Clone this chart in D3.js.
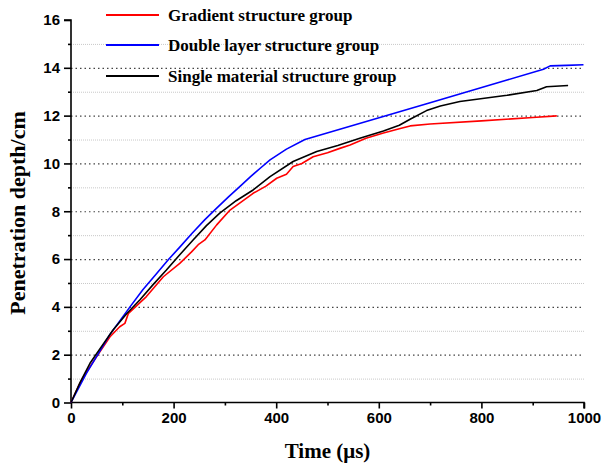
<!DOCTYPE html>
<html>
<head>
<meta charset="utf-8">
<script src="https://cdn.jsdelivr.net/npm/d3@7/dist/d3.min.js"></script>
<style>
	body { margin: 0; background: #fff; }
	svg { display: block; }
</style>
</head>
<body>
<svg id="svg" width="608" height="464"></svg>
<script>
// data: [time (us), depth (cm)]
const gradientData = [
	[0, 0], [15, 0.7], [31, 1.3], [50, 1.92], [76, 2.75], [95, 3.17], [105, 3.31], [112, 3.73],
	[147, 4.43], [180, 5.26], [212, 5.82], [235, 6.3], [248, 6.6], [261, 6.8], [284, 7.43],
	[310, 8.05], [355, 8.75], [380, 9.05], [401, 9.38], [420, 9.55], [433, 9.87], [450, 10.0],
	[472, 10.28], [500, 10.45], [524, 10.63], [544, 10.77], [575, 11.05], [609, 11.27],
	[640, 11.45], [661, 11.57], [700, 11.65], [800, 11.78], [900, 11.92], [947, 11.99],
];
const doubleData = [
	[0, 0], [30, 1.22], [76, 2.85], [115, 4.0], [140, 4.72], [167, 5.4], [190, 5.98], [212, 6.5],
	[237, 7.1], [261, 7.65], [285, 8.15], [307, 8.6], [330, 9.05], [350, 9.45], [370, 9.82],
	[388, 10.15], [420, 10.6], [456, 11.0], [544, 11.56], [700, 12.54], [850, 13.49],
	[921, 13.94], [934, 14.08], [966, 14.1], [999, 14.13],
];
const singleData = [
	[0, 0], [18, 0.85], [37, 1.64], [60, 2.36], [82, 3.03], [108, 3.7], [134, 4.29], [160, 4.93],
	[186, 5.54], [212, 6.18], [238, 6.8], [264, 7.4], [290, 7.92], [322, 8.44], [355, 8.89],
	[388, 9.45], [433, 10.08], [479, 10.5], [520, 10.75], [563, 11.05], [609, 11.36],
	[640, 11.6], [661, 11.85], [693, 12.21], [720, 12.4], [758, 12.59], [850, 12.85],
	[908, 13.05], [927, 13.21], [969, 13.26],
];
const seriesNames = ['Gradient structure group', 'Double layer structure group', 'Single material structure group'];
const seriesColors = ['#ff0000', '#0000ff', '#000000'];
const xTicks = [0, 200, 400, 600, 800, 1000];
const yTicks = [0, 2, 4, 6, 8, 10, 12, 14, 16];

const margin = { left: 71, right: 24, top: 20, bottom: 61.5 };
const W = 608, H = 464;

const svg = d3.select('#svg');
const x = d3.scaleLinear().domain([0, 1000]).range([margin.left, W - margin.right]);
const y = d3.scaleLinear().domain([0, 16]).range([H - margin.bottom, margin.top]);

// grid lines
let minorY = d3.range(1, 16, 2),
	majorY = [2, 4, 6, 8, 10, 12, 14];
svg.append('g').selectAll('line').data(minorY).enter().append('line')
	.attr('x1', x(0)).attr('x2', x(1000))
	.attr('y1', d => y(d) + 0.5).attr('y2', d => y(d) + 0.5)
	.attr('stroke', '#c8c8c8').attr('stroke-width', 1).attr('stroke-dasharray', '1,1');
svg.append('g').selectAll('line').data(majorY).enter().append('line')
	.attr('x1', x(0)).attr('x2', x(1000))
	.attr('y1', d => y(d) + 0.5).attr('y2', d => y(d) + 0.5)
	.attr('stroke', '#444').attr('stroke-width', 1.2).attr('stroke-dasharray', '1.5,3');

// axes
let fontTick = '"Liberation Sans", Arial, sans-serif';
let xAxis = svg.append('g').attr('transform', `translate(0,${y(0)})`)
	.call(d3.axisBottom(x).tickValues(xTicks).tickSize(6).tickPadding(4).tickFormat(d3.format('d')));
let xMinor = svg.append('g').attr('transform', `translate(0,${y(0)})`)
	.call(d3.axisBottom(x).tickValues([100, 300, 500, 700, 900]).tickSize(3).tickFormat(''));
xMinor.select('.domain').remove();
let yAxis = svg.append('g').attr('transform', `translate(${x(0)},0)`)
	.call(d3.axisLeft(y).tickValues(yTicks).tickSize(7).tickPadding(4));
let yMinor = svg.append('g').attr('transform', `translate(${x(0)},0)`)
	.call(d3.axisLeft(y).tickValues(minorY).tickSize(3).tickFormat(''));
yMinor.select('.domain').remove();

[xAxis, yAxis, xMinor, yMinor].forEach(g => {
	g.selectAll('path, line').attr('stroke', '#000').attr('stroke-width', 1.6);
	g.selectAll('text').attr('font-family', fontTick).attr('font-weight', 'bold')
		.attr('font-size', 15).attr('fill', '#000');
});
xAxis.select('.domain').attr('d', `M${x(0)},0H${x(1000)}V6`);
yAxis.select('.domain').attr('d', `M-7,${y(16)}H0V${y(0)}`);

// series
let line = d3.line().x(d => x(d[0])).y(d => y(d[1]));
[gradientData, doubleData, singleData].forEach((data, i) => {
	svg.append('path').datum(data)
		.attr('d', line)
		.attr('fill', 'none')
		.attr('stroke', seriesColors[i])
		.attr('stroke-width', 1.6)
		.attr('stroke-linejoin', 'round');
});

// legend
let fontSerif = '"Liberation Serif", "Times New Roman", serif';
let legend = svg.append('g');
let legendY = [15, 45, 76];
seriesNames.forEach((name, i) => {
	legend.append('line')
		.attr('x1', 106).attr('x2', 159)
		.attr('y1', legendY[i]).attr('y2', legendY[i])
		.attr('stroke', seriesColors[i]).attr('stroke-width', 2);
	legend.append('text')
		.attr('x', 168).attr('y', legendY[i])
		.attr('dy', '0.35em')
		.attr('font-family', fontSerif).attr('font-weight', 'bold')
		.attr('font-size', 17).attr('fill', '#000')
		.text(name);
});

// axis titles
svg.append('text')
	.attr('x', (x(0) + x(1000)) / 2).attr('y', 458)
	.attr('text-anchor', 'middle')
	.attr('font-family', fontSerif).attr('font-weight', 'bold').attr('font-size', 21)
	.text('Time (μs)');
svg.append('text')
	.attr('transform', `translate(25,213) rotate(-90)`)
	.attr('text-anchor', 'middle')
	.attr('font-family', fontSerif).attr('font-weight', 'bold').attr('font-size', 22)
	.text('Penetration depth/cm');
</script>
</body>
</html>
